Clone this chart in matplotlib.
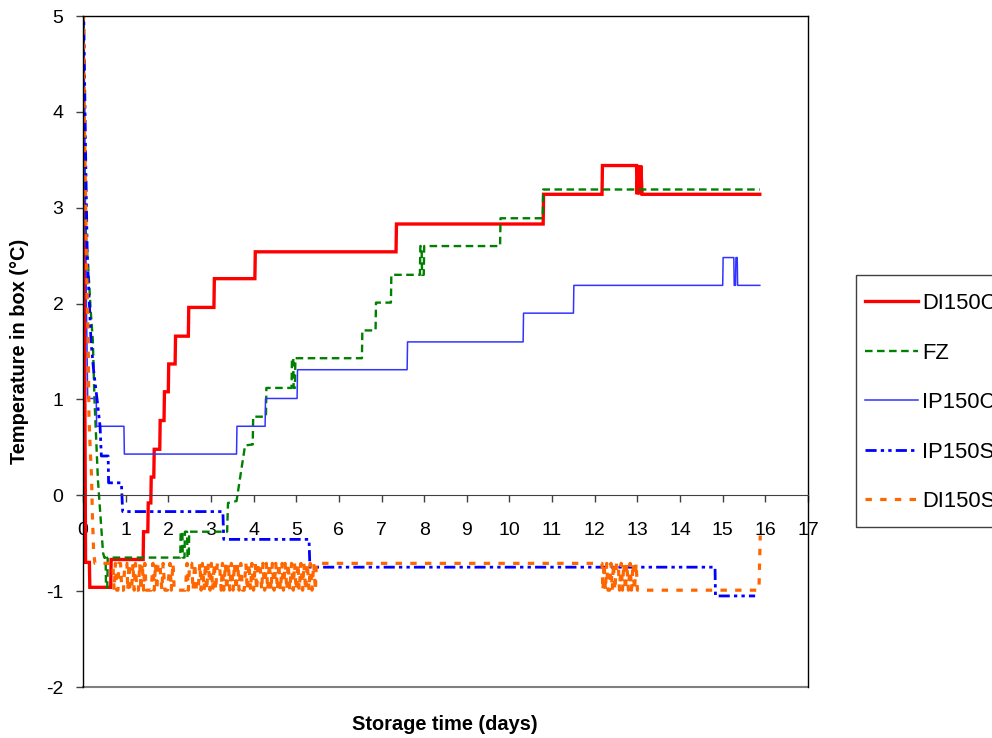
import matplotlib
matplotlib.use("Agg")
import matplotlib.pyplot as plt
from matplotlib.patches import Rectangle

plt.rcParams['font.family'] = ['Liberation Sans', 'DejaVu Sans']
plt.rcParams['axes.unicode_minus'] = False

# Box temperature logs (days, degC)
di150c_t = [0.00, 0.06, 0.15, 0.16, 0.65, 0.66, 1.41, 1.42, 1.52, 1.53, 1.59, 1.60,
            1.66, 1.67, 1.80, 1.81, 1.90, 1.91, 2.00, 2.01, 2.16, 2.17, 2.47, 2.48,
            3.07, 3.08, 4.03, 4.04, 7.34, 7.35, 10.79, 10.80, 12.17, 12.18, 12.98,
            12.99, 13.02, 13.05, 13.08, 13.11, 15.87]
di150c_v = [5.60, -0.70, -0.70, -0.96, -0.96, -0.67, -0.67, -0.38, -0.38, -0.08, -0.08, 0.19,
            0.19, 0.48, 0.48, 0.78, 0.78, 1.08, 1.08, 1.37, 1.37, 1.66, 1.66, 1.96,
            1.96, 2.26, 2.26, 2.54, 2.54, 2.83, 2.83, 3.14, 3.14, 3.44, 3.44,
            3.14, 3.44, 3.14, 3.44, 3.14, 3.14]

fz_t = [0.00, 0.04, 0.07, 0.12, 0.18, 0.23, 0.27, 0.35, 0.47, 0.50, 0.53, 0.54, 0.57,
        0.58, 2.28, 2.29, 2.33, 2.34, 2.38, 2.39, 2.44, 2.45, 2.48, 2.49, 3.21, 3.38,
        3.40, 3.60, 3.80, 3.98, 3.99, 4.29, 4.30, 4.89, 4.90, 4.93, 4.94, 4.97, 4.98,
        6.54, 6.55, 6.86, 6.87, 7.22, 7.23, 7.90, 7.91, 7.94, 7.95, 7.99, 8.00,
        9.78, 9.79, 10.78, 10.79, 15.87]
fz_v = [5.60, 3.20, 2.69, 2.40, 1.93, 1.62, 0.99, 0.16, -0.60, -0.65, -0.65, -0.96, -0.96,
        -0.65, -0.65, -0.38, -0.38, -0.65, -0.65, -0.38, -0.38, -0.65, -0.65, -0.38, -0.38, -0.38,
        -0.08, -0.06, 0.52, 0.53, 0.82, 0.82, 1.12, 1.12, 1.43, 1.43, 1.12, 1.12, 1.43,
        1.43, 1.72, 1.72, 2.01, 2.01, 2.30, 2.30, 2.60, 2.60, 2.30, 2.30, 2.60,
        2.60, 2.89, 2.89, 3.19, 3.19]

ip150c_t = [0.00, 0.08, 0.11, 0.31, 0.32, 0.96, 0.97, 3.60, 3.61, 4.27, 4.28, 5.02, 5.03,
            7.60, 7.61, 10.32, 10.33, 11.50, 11.51, 15.00, 15.01, 15.26, 15.27, 15.30,
            15.31, 15.34, 15.35, 15.87]
ip150c_v = [5.60, 2.00, 1.01, 1.01, 0.72, 0.72, 0.43, 0.43, 0.72, 0.72, 1.01, 1.01, 1.31,
            1.31, 1.60, 1.60, 1.90, 1.90, 2.19, 2.19, 2.48, 2.48, 2.19, 2.19,
            2.48, 2.48, 2.19, 2.19]

ip150s_t = [0.00, 0.06, 0.10, 0.19, 0.25, 0.33, 0.40, 0.43, 0.59, 0.60, 0.90, 0.93,
            3.28, 3.30, 5.30, 5.32, 14.82, 14.83, 15.76]
ip150s_v = [5.60, 3.60, 2.50, 1.59, 1.30, 1.00, 0.72, 0.41, 0.41, 0.13, 0.13, -0.17,
            -0.17, -0.46, -0.46, -0.75, -0.75, -1.05, -1.05]

di150s_t = [0.00, 0.03, 0.08, 0.12, 0.14, 0.17, 0.20, 0.22, 0.25, 0.28,
            0.70, 0.73, 0.76, 0.79, 0.82, 0.84, 0.88, 0.91, 0.95, 0.98, 1.03, 1.05,
            1.08, 1.10, 1.14, 1.17, 1.20, 1.23, 1.26, 1.30, 1.33, 1.36, 1.39, 1.42,
            1.45, 1.48, 1.60, 1.64, 1.67, 1.70, 1.73, 1.76, 1.80, 1.85, 1.88, 1.92,
            1.98, 2.04, 2.07, 2.11, 2.14, 2.40, 2.44, 2.47, 2.50, 2.55, 2.58, 2.62,
            2.66, 2.70, 2.74, 2.77, 2.80, 2.84, 2.87, 2.90, 2.94, 2.98, 3.01, 3.04,
            3.08, 3.11, 3.15, 3.20, 3.24, 3.27, 3.30, 3.34, 3.37, 3.41, 3.44, 3.48,
            3.52, 3.55, 3.59, 3.63, 3.66, 3.70, 3.74, 3.78, 3.82, 3.85, 3.89, 3.93,
            3.96, 4.00, 4.04, 4.07, 4.11, 4.15, 4.19, 4.22, 4.26, 4.30, 4.33, 4.37,
            4.41, 4.44, 4.48, 4.52, 4.56, 4.59, 4.63, 4.67, 4.70, 4.74, 4.78, 4.81,
            4.85, 4.89, 4.93, 4.96, 5.00, 5.04, 5.07, 5.11, 5.15, 5.18, 5.22, 5.26,
            5.30, 5.33, 5.37, 5.41, 5.45, 5.47,
            12.17, 12.19, 12.22, 12.25, 12.28, 12.31, 12.35, 12.38, 12.41, 12.44,
            12.47, 12.51, 12.55, 12.58, 12.62, 12.65, 12.68, 12.72, 12.75, 12.79,
            12.83, 12.86, 12.90, 12.93, 12.97, 13.00, 15.85, 15.88]
di150s_v = [5.60, 4.00, 2.50, 1.62, 0.82, 0.47, 0.20, -0.20, -0.60, -0.71,
            -0.71, -0.99, -0.71, -0.99, -0.99, -0.71, -0.71, -0.99, -0.99, -0.71, -0.71, -0.99,
            -0.71, -0.99, -0.99, -0.71, -0.99, -0.71, -0.99, -0.99, -0.71, -0.99, -0.71, -0.99,
            -0.71, -0.99, -0.99, -0.71, -0.99, -0.71, -0.99, -0.71, -0.71, -0.99, -0.71, -0.99,
            -0.99, -0.71, -0.99, -0.71, -0.99, -0.99, -0.71, -0.99, -0.71, -0.71, -0.99, -0.71,
            -0.99, -0.99, -0.71, -0.99, -0.71, -0.99, -0.71, -0.99, -0.71, -0.99, -0.71, -0.99,
            -0.71, -0.99, -0.71, -0.71, -0.99, -0.71, -0.99, -0.71, -0.99, -0.71, -0.99, -0.71,
            -0.99, -0.71, -0.99, -0.71, -0.99, -0.71, -0.99, -0.99, -0.71, -0.99, -0.71, -0.99,
            -0.71, -0.99, -0.71, -0.99, -0.71, -0.71, -0.99, -0.71, -0.99, -0.71, -0.99, -0.71,
            -0.99, -0.71, -0.99, -0.71, -0.99, -0.71, -0.99, -0.71, -0.99, -0.71, -0.99, -0.71,
            -0.99, -0.71, -0.99, -0.71, -0.99, -0.71, -0.99, -0.71, -0.99, -0.71, -0.99, -0.71,
            -0.99, -0.71, -0.99, -0.71, -0.99, -0.71,
            -0.71, -0.99, -0.71, -0.99, -0.71, -0.99, -0.99, -0.71, -0.99, -0.71,
            -0.99, -0.71, -0.71, -0.99, -0.71, -0.99, -0.71, -0.99, -0.71, -0.99,
            -0.71, -0.99, -0.71, -0.99, -0.71, -0.99, -0.99, -0.42]

series_names = ['DI150C', 'FZ', 'IP150C', 'IP150S', 'DI150S']
x_ticks = list(range(0, 18))
y_ticks = list(range(-2, 6))

fig = plt.figure(figsize=(9.92, 7.38), dpi=100)
ax = fig.add_axes([83 / 992, 51 / 738, 725 / 992, 671 / 738])

ax.plot(di150c_t, di150c_v, color='#FF0000', lw=2.4, label=series_names[0], solid_joinstyle='miter')
ax.plot(fz_t, fz_v, color='#008000', lw=1.7, dashes=(3.2, 1.9), label=series_names[1])
ax.plot(ip150c_t, ip150c_v, color='#3333FF', lw=1.1, label=series_names[2])
ax.plot(ip150s_t, ip150s_v, color='#0000FF', lw=2.0,
        dashes=(4.0, 1.5, 1.2, 1.5, 1.2, 1.5), label=series_names[3])
ax.plot(di150s_t, di150s_v, color='#FF6600', lw=2.3, dashes=(2.0, 2.6), label=series_names[4])

ax.set_xlim(0, 17)
ax.set_ylim(-2, 5)
ax.set_xticks(x_ticks)
ax.set_yticks(y_ticks)

# x axis crosses at 0 degC; the plot area keeps a full frame
ax.spines['bottom'].set_position(('data', 0))
ax.spines['bottom'].set_color('#404040')
for side in ('left', 'top', 'right'):
    ax.spines[side].set_color('black')
    ax.spines[side].set_linewidth(1.0)
ax.axhline(-2, color='#808080', lw=1.5, clip_on=False, zorder=0.5)

ax.tick_params(axis='x', direction='out', length=5, width=1, color='#404040',
               labelsize=14, pad=14)
ax.tick_params(axis='y', direction='out', length=5, width=1, color='#404040',
               labelsize=14, pad=9)

fig.text(445 / 992, 1 - 724 / 738, 'Storage time (days)', ha='center', va='center',
         fontsize=14.4, fontweight='bold')
fig.text(20 / 992, 1 - 351 / 738, 'Temperature in box (°C)', ha='center', va='center',
         rotation=90, fontsize=14.4, fontweight='bold')

# legend frame runs past the right edge of the canvas
fig.patches.append(Rectangle((856 / 992, 1 - 527 / 738), 0.2, 252 / 738,
                             transform=fig.transFigure, fill=False,
                             edgecolor='#404040', linewidth=1.0))
leg = fig.legend(loc='upper left', bbox_to_anchor=(865 / 992, 1 - 293 / 738),
                 borderaxespad=0, borderpad=0, fontsize=15.8, frameon=False,
                 handlelength=2.4, handletextpad=0.22, labelspacing=1.3)

fig.savefig('out.png', dpi=100)
